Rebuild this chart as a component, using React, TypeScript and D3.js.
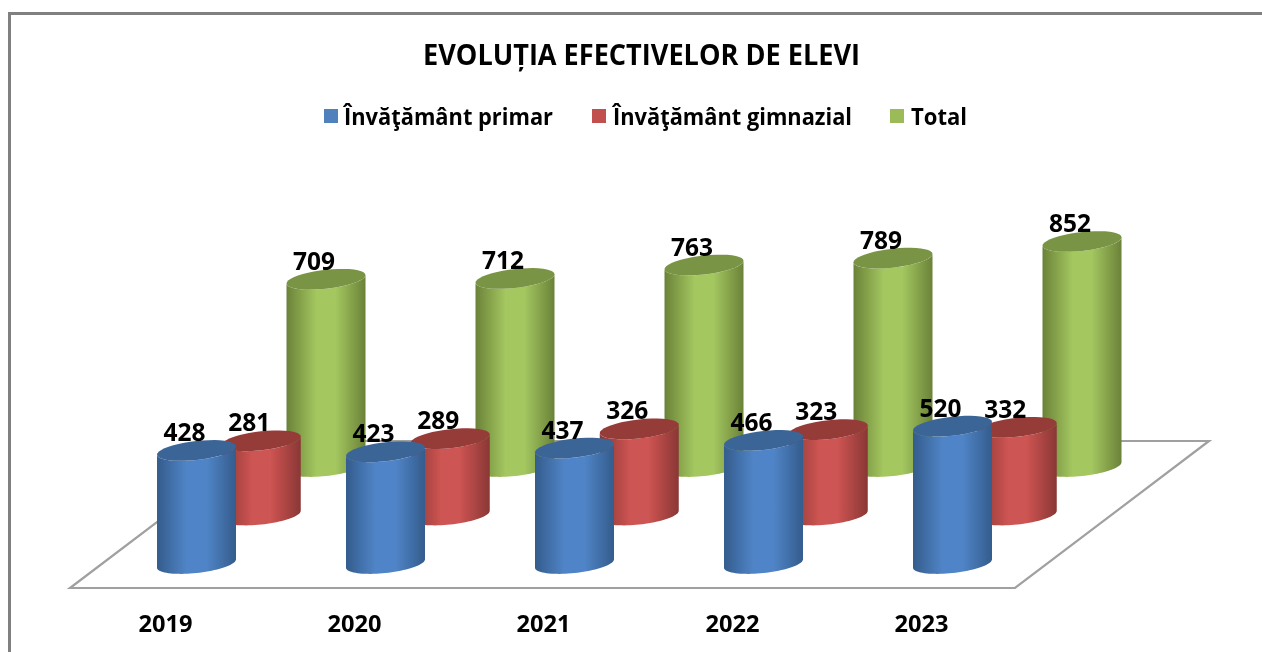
import React from "react";
import * as d3 from "d3";

const title = "EVOLUȚIA EFECTIVELOR DE ELEVI";
const years = ["2019", "2020", "2021", "2022", "2023"];
const seriesNames = ["Învăţământ primar", "Învăţământ gimnazial", "Total"];
const primar = [428, 423, 437, 466, 520];
const gimnazial = [281, 289, 326, 323, 332];
const total = [709, 712, 763, 789, 852];
const seriesValues = [primar, gimnazial, total];

const palette = [
  { id: "b", edge: "#345c8c", mid: "#5085c8", top: "#3b6596", swatch: "#4f81bd" },
  { id: "r", edge: "#8a3735", mid: "#cd5452", top: "#953a38", swatch: "#c0504d" },
  { id: "g", edge: "#6a8238", mid: "#a4c760", top: "#7a9445", swatch: "#9bbb59" },
];

const legendPos = [
  { sx: 324, tx: 344, tw: 209 },
  { sx: 592, tx: 613, tw: 239 },
  { sx: 890, tx: 911, tw: 56 },
];

const FONT = "'Open Sans', sans-serif";
const RX = 39.5;
const RY = 9.5;
const TILT = 4.2;

const x = d3.scaleBand<string>().domain(years).range([70, 1015]);
const offX = d3.scalePoint<string>().domain(seriesNames).range([32, 161.5]);
const baseY = d3.scalePoint<string>().domain(seriesNames).range([563.5, 466.5]);
const h = d3.scaleLinear().domain([0, 852]).range([0, 225]);

// Points on the tilted ellipse, from angle a to b
function arc(cx: number, cy: number, a: number, b: number) {
  return d3.range(0, 41).map((i) => {
    const t = a + ((b - a) * i) / 40;
    return [cx + RX * Math.cos(t), cy + RY * Math.sin(t) - TILT * Math.cos(t)] as [number, number];
  });
}
const line = d3.line();

function Cylinder({ s, i, v }: { s: number; i: number; v: number }) {
  const name = seriesNames[s];
  const cx = x(years[i])! + x.bandwidth() / 2 + offX(name)!;
  const by = baseY(name)!;
  const ty = by - h(v);
  const front = arc(cx, by, 0, Math.PI);
  const body = [...front, ...arc(cx, ty, Math.PI, 0)];
  const lid = arc(cx, ty, 0, Math.PI * 2);
  const p = palette[s];
  return (
    <g>
      <path d={line(body)! + "Z"} fill={`url(#grad-${p.id})`} />
      <path d={line(lid)! + "Z"} fill={p.top} />
    </g>
  );
}

export default function App() {
  const [x0, x1] = x.range();
  const planeFront = 588;
  const planeBack = 441;
  const planeDx = 194;
  const plane = line([
    [x0, planeFront],
    [x1, planeFront],
    [x1 + planeDx, planeBack],
    [x0 + planeDx, planeBack],
  ])! + "Z";

  return (
    <svg
      width={1262}
      height={652}
      style={{ position: "absolute", left: 0, top: 0, background: "#fff" }}
      fontFamily={FONT}
    >
      <defs>
        {palette.map((p) => (
          <linearGradient key={p.id} id={`grad-${p.id}`} x1="0" x2="1" y1="0" y2="0">
            <stop offset="0" stopColor={p.edge} />
            <stop offset="0.38" stopColor={p.mid} />
            <stop offset="0.62" stopColor={p.mid} />
            <stop offset="1" stopColor={p.edge} />
          </linearGradient>
        ))}
        <filter id="soft" x="-5%" y="-5%" width="110%" height="110%">
          <feGaussianBlur stdDeviation="0.5" />
        </filter>
      </defs>

      <g filter="url(#soft)">
        <path d="M9.5,652 V13.5 H1262" fill="none" stroke="#808080" strokeWidth={3} />
        <path d={plane} fill="#fff" stroke="#a0a0a0" strokeWidth={2.2} />

        {[2, 1, 0].map((s) =>
          seriesValues[s].map((v, i) => <Cylinder key={`${s}-${i}`} s={s} i={i} v={v} />)
        )}

        <g fontWeight={700} fill="#000">
          <text x={423} y={65} fontSize={29} textLength={437} lengthAdjust="spacingAndGlyphs">
            {title}
          </text>

          {seriesNames.map((n, s) => (
            <g key={n}>
              <rect x={legendPos[s].sx} y={109} width={14} height={14} fill={palette[s].swatch} />
              <text
                x={legendPos[s].tx}
                y={124.5}
                fontSize={24}
                textLength={legendPos[s].tw}
                lengthAdjust="spacingAndGlyphs"
              >
                {n}
              </text>
            </g>
          ))}

          {years.map((y) => (
            <text key={y} x={x(y)! + x.bandwidth() / 2 + 1} y={632} fontSize={24} textAnchor="middle" textLength={54} lengthAdjust="spacingAndGlyphs">
              {y}
            </text>
          ))}

          {seriesValues.map((vals, s) =>
            vals.map((v, i) => {
              const name = seriesNames[s];
              const cx = x(years[i])! + x.bandwidth() / 2 + offX(name)!;
              const ty = baseY(name)! - h(v);
              return (
                <text
                  key={`l${s}-${i}`}
                  x={cx - 12}
                  y={ty - 9.5}
                  fontSize={25}
                  textAnchor="middle"
                  textLength={42}
                  lengthAdjust="spacingAndGlyphs"
                >
                  {v}
                </text>
              );
            })
          )}
        </g>
      </g>
    </svg>
  );
}
